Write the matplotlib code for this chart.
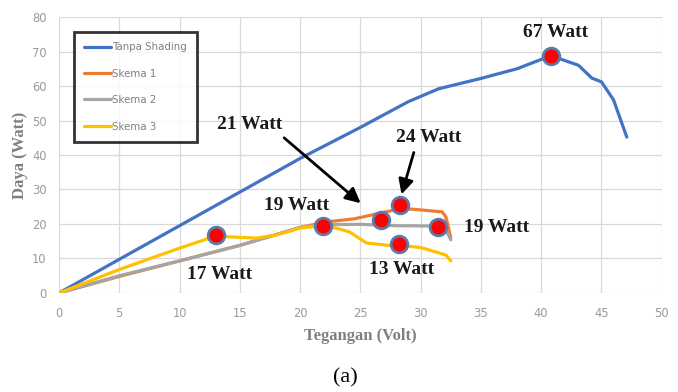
import matplotlib
matplotlib.use("Agg")
import matplotlib.pyplot as plt

# ---- data ----
tanpa_x = [0, 10, 20, 25, 29, 31.5, 35, 38, 40.8, 43.1, 44.2, 45.0, 46.0, 47.1]
tanpa_y = [0, 19.5, 39, 48, 55.5, 59.2, 62.2, 65, 68.8, 66, 62.3, 61.2, 56, 45.2]

skema1_x = [0, 5, 10, 15, 20, 22.2, 24.5, 26.7, 28.3, 29.3, 31.8, 32.1, 32.5]
skema1_y = [0, 4.8, 9.3, 13.8, 19, 20.6, 21.5, 23.2, 24.4, 24.3, 23.5, 22, 16]

skema2_x = [0, 5, 10, 15, 20, 22, 25, 28, 31.4, 32.0, 32.5]
skema2_y = [0, 5, 9.3, 13.8, 19, 19.8, 19.9, 19.5, 19.4, 19.0, 15.4]

skema3_x = [0, 5, 10, 13, 14.5, 16.4, 18, 20, 21.9, 23, 24.1, 25.5, 27.6, 28.2, 30, 32.1, 32.5]
skema3_y = [0, 6.8, 13, 16.5, 16.2, 15.9, 16.8, 18.8, 19.6, 18.8, 17.7, 14.5, 13.7, 13.8, 13.2, 11, 9.3]

legend_labels = ["Tanpa Shading", "Skema 1", "Skema 2", "Skema 3"]
colors = ["#4472C4", "#ED7D31", "#A5A5A5", "#FFC000"]

peak_x = [40.8, 28.3, 26.7, 21.9, 31.4, 13.0, 28.2]
peak_y = [68.8, 25.5, 21.2, 19.5, 19.2, 16.8, 14.2]
peak_labels = ["67 Watt", "24 Watt", "21 Watt", "19 Watt", "19 Watt", "17 Watt", "13 Watt"]

x_ticks = [0, 5, 10, 15, 20, 25, 30, 35, 40, 45, 50]
y_ticks = [0, 10, 20, 30, 40, 50, 60, 70, 80]

# ---- figure ----
fig = plt.figure(figsize=(6.78, 3.92), dpi=100)
ax = fig.add_axes([0.087, 0.2526, 0.889, 0.704])

series = [(tanpa_x, tanpa_y), (skema1_x, skema1_y), (skema2_x, skema2_y), (skema3_x, skema3_y)]
lines = []
for (xs, ys), c, lab in zip(series, colors, legend_labels):
    ln, = ax.plot(xs, ys, color=c, lw=2.3, label=lab, solid_capstyle="round", zorder=3)
    lines.append(ln)

ax.plot(peak_x, peak_y, ls="none", marker="o", ms=12, mfc="#FF0000",
        mec="#5B7BA8", mew=2, zorder=5)

ax.set_xlim(0, 50)
ax.set_ylim(0, 80)
ax.set_xticks(x_ticks)
ax.set_yticks(y_ticks)
ax.grid(True, color="#D9D9D9", lw=0.9)
ax.set_axisbelow(True)
for s in ax.spines.values():
    s.set_visible(False)
ax.tick_params(length=0, colors="#9A9A9A", labelsize=8.3)
ax.tick_params(axis="x", pad=10)
ax.tick_params(axis="y", pad=9)

ax.set_xlabel("Tegangan (Volt)", family="Liberation Serif", fontweight="bold",
              color="#7F7F7F", fontsize=12, labelpad=6)
ax.set_ylabel("Daya (Watt)", family="Liberation Serif", fontweight="bold",
              color="#7F7F7F", fontsize=12, labelpad=3)

leg = ax.legend(handles=lines, loc="upper left", bbox_to_anchor=(0.025, 0.946),
                frameon=True, fancybox=False, fontsize=7.4, labelspacing=1.6,
                handlelength=2.6, handletextpad=0.05, borderpad=1.0,
                borderaxespad=0)
leg.get_frame().set_edgecolor("black")
leg.get_frame().set_linewidth(2)
for t in leg.get_texts():
    t.set_color("#7F7F7F")

tfont = dict(family="Liberation Serif", fontweight="bold", fontsize=14, color="#1a1a1a")
# text positions (axes data coords)
ax.text(41.2, 75.5, peak_labels[0], ha="center", va="center", **tfont)
ax.text(30.7, 45.2, peak_labels[1], ha="center", va="center", **tfont)
ax.text(15.8, 48.7, peak_labels[2], ha="center", va="center", **tfont)
ax.text(19.7, 25.5, peak_labels[3], ha="center", va="center", **tfont)
ax.text(36.3, 18.9, peak_labels[4], ha="center", va="center", **tfont)
ax.text(13.3, 5.3, peak_labels[5], ha="center", va="center", **tfont)
ax.text(28.4, 6.8, peak_labels[6], ha="center", va="center", **tfont)

arrow = dict(arrowstyle="-|>,head_length=0.9,head_width=0.45", color="black", lw=2)
ax.annotate("", xy=(peak_x[1] + 0.05, peak_y[1] + 2.3), xytext=(29.5, 41.5),
            arrowprops=arrow, zorder=6)
ax.annotate("", xy=(25.2, 25.5), xytext=(18.5, 45.5),
            arrowprops=arrow, zorder=6)

fig.text(0.509, 0.035, "(a)", ha="center", va="center",
         family="Liberation Serif", fontsize=16, color="black")

fig.savefig("out.png", dpi=100)
